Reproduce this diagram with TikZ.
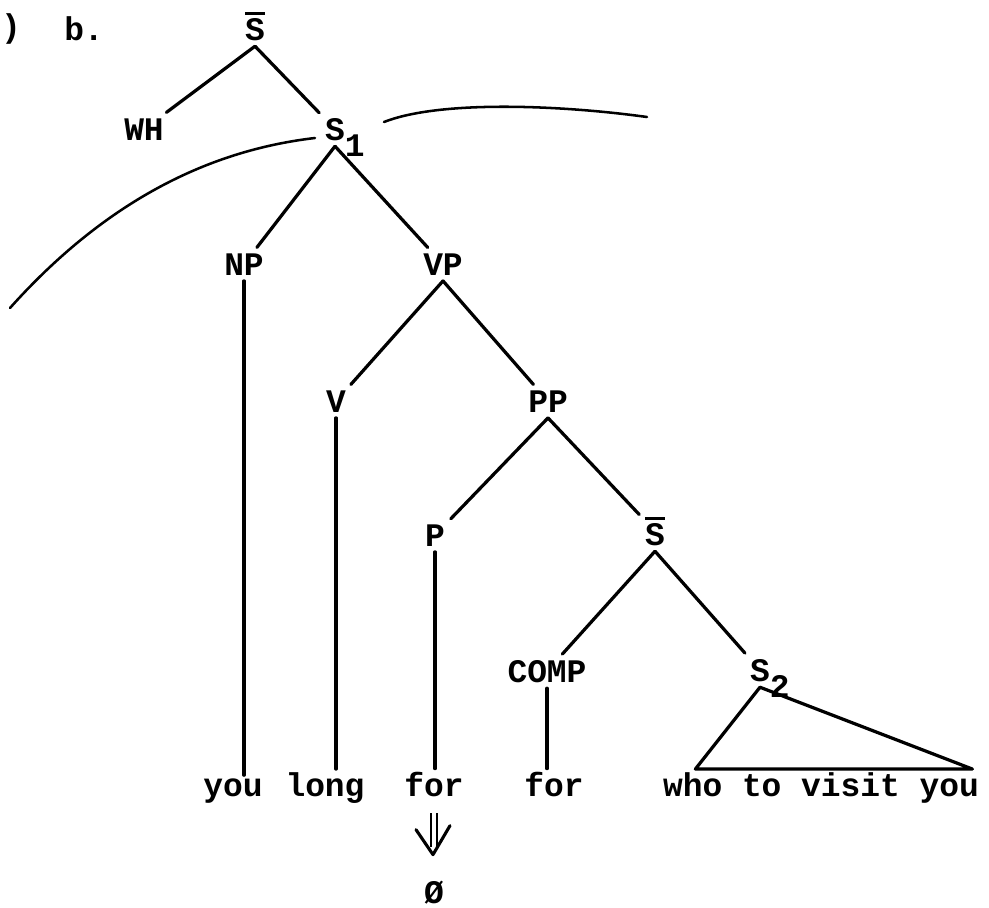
\documentclass[tikz,border=0pt]{standalone}
\usepackage{fontspec}
\setmainfont{Liberation Mono}
\usetikzlibrary{positioning,arrows.meta,calc}
\newcommand{\barS}{\makebox[0pt][l]{\rule[0.76em]{0.6em}{0.09em}}S}
\newcommand{\subS}[1]{S\rlap{\raisebox{-0.5em}[0pt][0pt]{#1}}}

\begin{document}
\begin{tikzpicture}[x=0.025cm, y=-0.025cm,
    catLabel/.style={inner sep=4pt, anchor=base, font=\bfseries\fontsize{23.4}{28}\selectfont},
    wordLabel/.style={inner sep=2pt, anchor=base, font=\bfseries\fontsize{23.4}{28}\selectfont},
    branchLine/.style={line width=2.3pt, line cap=round},
    sketchCurve/.style={line width=1.8pt, line cap=round},
    derivShaft/.style={double, double distance=3.5pt, line width=1.4pt, shorten <=0.35cm, shorten >=0.7cm},
    derivHead/.style={line width=2.2pt, line cap=round, line join=round}
]
    \useasboundingbox (0,0) rectangle (989,908);

    % example label
    \node[wordLabel] (paren) at (11,37) {)};
    \node[wordLabel] (item) at (84,40) {b.};

    % upper tree
    \node[catLabel] (sbarTop) at (255,40) {\barS};
    \node[catLabel] (wh) at (144,140) {WH};
    \node[catLabel] (s1) at (335,140) {\subS{1}};
    \node[catLabel] (np) at (244,275) {NP};
    \node[catLabel] (vp) at (443,275) {VP};
    \node[catLabel] (v) at (336,412) {V};
    \node[catLabel] (pp) at (548,412) {PP};
    \node[catLabel] (p) at (435,546) {P};
    \node[catLabel] (sbarLow) at (655,545) {\barS};
    \node[catLabel] (comp) at (547,682) {COMP};
    \node[catLabel] (s2) at (760,681) {\subS{2}};

    % terminal string
    \node[wordLabel] (you) at (233,796) {you};
    \node[wordLabel] (long) at (325,796) {long};
    \node[wordLabel] (forP) at (434,796) {for};
    \node[wordLabel] (forC) at (554,796) {for};
    \node[wordLabel] (phrase) at (821,796) {who to visit you};
    \node[catLabel] (zero) at (434,903) {Ø};

    % branches
    \draw[branchLine] (sbarTop.south) -- (wh);
    \draw[branchLine] (sbarTop.south) -- (s1);
    \draw[branchLine] (s1.south) -- (np);
    \draw[branchLine] (s1.south) -- (vp);
    \draw[branchLine] (vp.south) -- (v);
    \draw[branchLine] (vp.south) -- (pp);
    \draw[branchLine] (pp.south) -- (p);
    \draw[branchLine] (pp.south) -- (sbarLow);
    \draw[branchLine] (sbarLow.south) -- (comp);
    \draw[branchLine] (sbarLow.south) -- (s2);

    % lines down to the words
    \draw[branchLine] (np.south) -- (np.south |- you.north);
    \draw[branchLine] (v.south) -- (v.south |- long.north);
    \draw[branchLine] (p.south) -- (p.south |- forP.north);
    \draw[branchLine] (comp.south) -- (comp.south |- forC.north);

    % triangle over S2
    \coordinate (triL) at ($(phrase.north west)!0.11!(phrase.north east)$);
    \coordinate (triR) at ($(phrase.north west)!0.97!(phrase.north east)$);
    \draw[branchLine, line join=round] (s2.south) -- (triL) -- (triR) -- cycle;

    % deletion of for
    \coordinate (tip) at ($(zero.north)+(-1,-20)$);
    \draw[derivShaft] (forP.south) -- (zero.north);
    \draw[derivHead] ($(tip)+(-17,-25)$) -- (tip) -- ($(tip)+(17,-29)$);

    % hand-drawn curves round S1
    \draw[sketchCurve] (315,138) .. controls (230,148) and (120,185) .. (10,308);
    \draw[sketchCurve] (384,122) .. controls (440,100) and (560,105) .. (647,117);
\end{tikzpicture}
\end{document}
